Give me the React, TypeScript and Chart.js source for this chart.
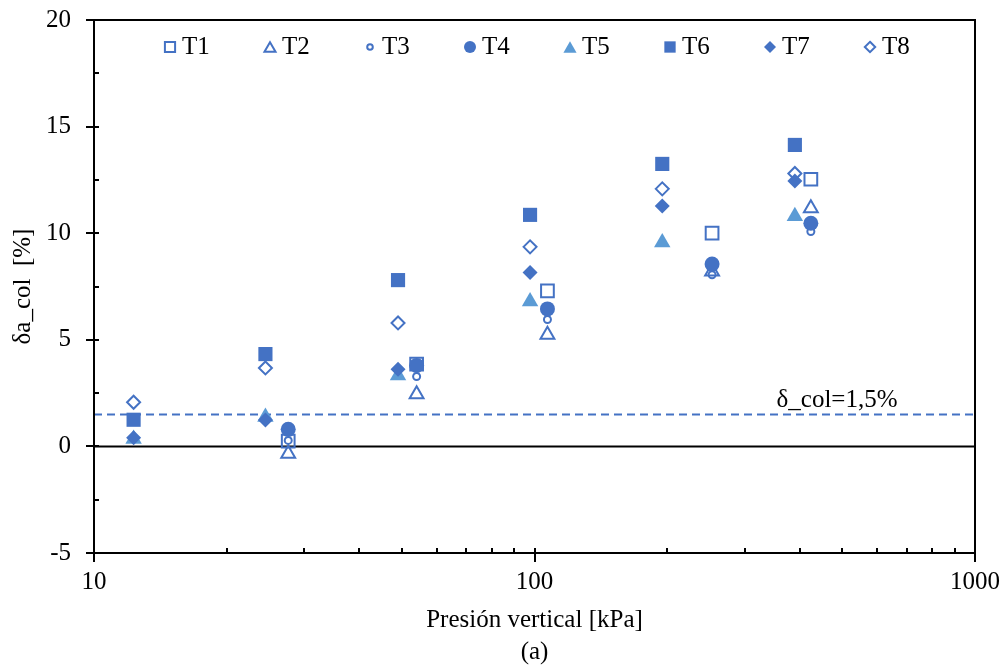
import React, { useEffect, useRef } from 'react';
import { Chart, registerables } from 'chart.js';

Chart.register(...registerables);

// Series names and measured values
const SERIES_NAMES = ['T1', 'T2', 'T3', 'T4', 'T5', 'T6', 'T7', 'T8'];
const PRESSURE_T1_T4 = [27.6, 54, 107, 253, 424];
const PRESSURE_T5_T8 = [12.3, 24.5, 49, 97.7, 195, 390];
const T1 = [0.25, 3.86, 7.3, 10.0, 12.53];
const T2 = [-0.35, 2.45, 5.24, 8.2, 11.17];
const T3 = [0.28, 3.28, 5.95, 8.05, 10.08];
const T4 = [0.8, 3.8, 6.45, 8.55, 10.47];
const T5 = [0.35, 1.38, 3.33, 6.8, 9.56, 10.8];
const T6 = [1.25, 4.33, 7.8, 10.86, 13.25, 14.14];
const T7 = [0.4, 1.24, 3.62, 8.16, 11.28, 12.45];
const T8 = [2.07, 3.68, 5.79, 9.36, 12.08, 12.8];

const X_TICKS = [10, 100, 1000];
const X_MINOR = [20, 30, 40, 50, 60, 70, 80, 90, 200, 300, 400, 500, 600, 700, 800, 900];
const Y_TICKS = [-5, 0, 5, 10, 15, 20];
const Y_MINOR = [-2.5, 2.5, 7.5, 12.5, 17.5];
const LIMIT = 1.5;

const BLUE = '#4472C4';
const LIGHT_BLUE = '#5B9BD5';
const FONT_FAMILY = "'Times New Roman', 'Liberation Serif', serif";
const FONT = { family: FONT_FAMILY, size: 25 };

type MarkerStyle = { shape: 'rect' | 'triangle' | 'circle' | 'rectRot'; r: number; filled: boolean; color: string };

const MARKERS: MarkerStyle[] = [
  { shape: 'rect', r: 9, filled: false, color: BLUE },
  { shape: 'triangle', r: 8, filled: false, color: BLUE },
  { shape: 'circle', r: 3.5, filled: false, color: BLUE },
  { shape: 'circle', r: 7.5, filled: true, color: BLUE },
  { shape: 'triangle', r: 9.5, filled: true, color: LIGHT_BLUE },
  { shape: 'rect', r: 10, filled: true, color: BLUE },
  { shape: 'rectRot', r: 7.5, filled: true, color: BLUE },
  { shape: 'rectRot', r: 6.5, filled: false, color: BLUE },
];

const SERIES_VALUES = [T1, T2, T3, T4, T5, T6, T7, T8];
const SERIES_PRESSURES = [PRESSURE_T1_T4, PRESSURE_T1_T4, PRESSURE_T1_T4, PRESSURE_T1_T4,
  PRESSURE_T5_T8, PRESSURE_T5_T8, PRESSURE_T5_T8, PRESSURE_T5_T8];

function drawMarker(ctx: CanvasRenderingContext2D, m: MarkerStyle, x: number, y: number, r: number) {
  ctx.beginPath();
  if (m.shape === 'circle') {
    ctx.arc(x, y, r, 0, Math.PI * 2);
  } else if (m.shape === 'rect') {
    const s = r * Math.SQRT1_2;
    ctx.rect(x - s, y - s, 2 * s, 2 * s);
  } else if (m.shape === 'triangle') {
    ctx.moveTo(x, y - r);
    ctx.lineTo(x + r * Math.sin((2 * Math.PI) / 3), y + r * 0.5);
    ctx.lineTo(x - r * Math.sin((2 * Math.PI) / 3), y + r * 0.5);
  } else {
    ctx.moveTo(x, y - r);
    ctx.lineTo(x + r, y);
    ctx.lineTo(x, y + r);
    ctx.lineTo(x - r, y);
  }
  ctx.closePath();
  if (m.filled) {
    ctx.fillStyle = m.color;
    ctx.fill();
  } else {
    ctx.lineWidth = 2;
    ctx.strokeStyle = m.color;
    ctx.stroke();
  }
}

// Frame, inward/outward tick marks, reference-line label and the in-plot legend
const decorations = {
  id: 'decorations',
  afterDatasetsDraw(chart: any) {
    const { ctx, chartArea, scales } = chart;
    const { left, right, top, bottom } = chartArea;
    const xs = scales.x;
    const ys = scales.y;
    ctx.save();

    // plot frame
    ctx.strokeStyle = '#000';
    ctx.lineWidth = 2;
    ctx.strokeRect(left, top, right - left, bottom - top);

    // tick marks
    ctx.beginPath();
    Y_TICKS.forEach((v) => {
      const p = Math.round(ys.getPixelForValue(v));
      ctx.moveTo(left - 8, p);
      ctx.lineTo(left + 5, p);
    });
    Y_MINOR.forEach((v) => {
      const p = Math.round(ys.getPixelForValue(v));
      ctx.moveTo(left, p);
      ctx.lineTo(left + 5, p);
    });
    X_TICKS.forEach((v) => {
      const p = Math.round(xs.getPixelForValue(v));
      ctx.moveTo(p, bottom - 5);
      ctx.lineTo(p, bottom + 9);
    });
    X_MINOR.forEach((v) => {
      const p = Math.round(xs.getPixelForValue(v));
      ctx.moveTo(p, bottom);
      ctx.lineTo(p, bottom - 5);
    });
    ctx.lineWidth = 2;
    ctx.stroke();

    // label of the reference line
    ctx.font = `${FONT.size}px ${FONT_FAMILY}`;
    ctx.fillStyle = '#000';
    ctx.textAlign = 'center';
    ctx.textBaseline = 'middle';
    const limitText = `δ_col=${String(LIMIT).replace('.', ',')}%`;
    ctx.fillText(limitText, left + 743, ys.getPixelForValue(LIMIT) - 14);

    // legend inside the plot area
    const ly = top + 27;
    SERIES_NAMES.forEach((name, i) => {
      const cx = left + 76 + i * 100;
      const m = MARKERS[i];
      const yOff = m.shape === 'triangle' ? m.r * 0.8 * 0.25 : 0;
      drawMarker(ctx, m, cx, ly + yOff, m.r * 0.8);
      ctx.fillStyle = '#000';
      ctx.textAlign = 'left';
      ctx.textBaseline = 'middle';
      ctx.fillText(name, cx + 12, ly);
    });

    ctx.restore();
  },
};

export default function App() {
  const ref = useRef<HTMLCanvasElement>(null);

  useEffect(() => {
    if (!ref.current) return;

    const markerDatasets = SERIES_NAMES.map((name, i) => {
      const m = MARKERS[i];
      return {
        type: 'scatter' as const,
        label: name,
        data: SERIES_VALUES[i].map((y, j) => ({ x: SERIES_PRESSURES[i][j], y })),
        pointStyle: m.shape,
        pointRadius: m.r,
        pointBackgroundColor: m.filled ? m.color : 'rgba(0,0,0,0)',
        pointBorderColor: m.color,
        pointBorderWidth: m.filled ? 0 : 2,
        showLine: false,
        order: 10 - i,
      };
    });

    const chart = new Chart(ref.current, {
      type: 'scatter',
      data: {
        datasets: [
          ...markerDatasets,
          {
            type: 'line' as const,
            label: 'limit',
            data: [{ x: 10, y: LIMIT }, { x: 1000, y: LIMIT }],
            borderColor: BLUE,
            borderWidth: 2,
            borderDash: [8, 5],
            pointRadius: 0,
            showLine: true,
            fill: false,
            order: 30,
          },
          {
            type: 'line' as const,
            label: 'zero',
            data: [{ x: 10, y: 0 }, { x: 1000, y: 0 }],
            borderColor: '#000',
            borderWidth: 2,
            pointRadius: 0,
            showLine: true,
            fill: false,
            order: 31,
          },
        ] as any,
      },
      options: {
        responsive: false,
        devicePixelRatio: 1,
        animation: false,
        events: [],
        layout: { padding: { left: 0, top: 20, right: 33, bottom: 0 } },
        plugins: {
          legend: { display: false },
          tooltip: { enabled: false },
        },
        scales: {
          x: {
            type: 'logarithmic',
            position: 'bottom',
            min: 10,
            max: 1000,
            afterBuildTicks: (s: any) => {
              s.ticks = X_TICKS.map((v) => ({ value: v }));
            },
            afterFit: (s: any) => {
              s.height = 116;
              s.paddingLeft = 0;
              s.paddingRight = 0;
            },
            ticks: {
              color: '#000',
              font: FONT,
              padding: 14,
              autoSkip: false,
              maxRotation: 0,
              callback: (v: any) => String(v),
            },
            grid: { display: false, drawTicks: false },
            border: { display: false },
            title: {
              display: true,
              text: ['Presión vertical [kPa]', '(a)'],
              color: '#000',
              font: { ...FONT, lineHeight: 1.28 },
              padding: { top: 0, bottom: 1 },
            },
          },
          y: {
            type: 'linear',
            min: -5,
            max: 20,
            afterBuildTicks: (s: any) => {
              s.ticks = Y_TICKS.map((v) => ({ value: v }));
            },
            afterFit: (s: any) => {
              s.width = 94;
              s.paddingTop = 0;
              s.paddingBottom = 0;
            },
            ticks: {
              color: '#000',
              font: FONT,
              padding: 23,
              callback: (v: any) => String(v),
            },
            grid: { display: false, drawTicks: false },
            border: { display: false },
            title: {
              display: true,
              text: 'δa_col  [%]',
              color: '#000',
              font: FONT,
              padding: { top: 8, bottom: 0 },
            },
          },
        },
      } as any,
      plugins: [decorations],
    });

    return () => chart.destroy();
  }, []);

  return (
    <div style={{ position: 'fixed', left: 0, top: 0, width: 1008, height: 669, background: '#fff' }}>
      <canvas ref={ref} width={1008} height={669} style={{ display: 'block', width: 1008, height: 669 }} />
    </div>
  );
}
